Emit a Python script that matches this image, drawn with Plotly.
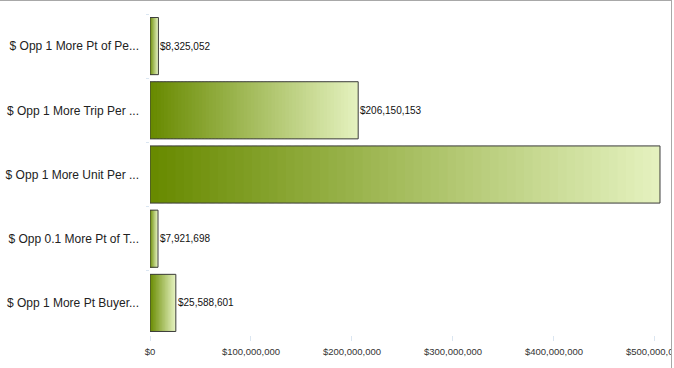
import plotly.graph_objects as go

categories = [
    "$ Opp 1 More Pt of Pe...",
    "$ Opp 1 More Trip Per ...",
    "$ Opp 1 More Unit Per ...",
    "$ Opp 0.1 More Pt of T...",
    "$ Opp 1 More Pt Buyer...",
]
values = [8325052, 206150153, 505000000, 7921698, 25588601]
tick_vals = [0, 100000000, 200000000, 300000000, 400000000, 500000000]

# gradient colours (left -> right along each bar)
c0 = (104, 138, 0)
c1 = (228, 241, 190)
N = 60

W, H = 674, 368
L, R, T, B = 150, 13, 14, 33
pw, ph = W - L - R, H - T - B
xmax = 506000000

seg_y, seg_x, seg_base, seg_col = [], [], [], []
for k in range(N):
    f = k / (N - 1)
    col = "rgb(%d,%d,%d)" % tuple(round(a + (b - a) * f) for a, b in zip(c0, c1))
    for cat, v in zip(categories, values):
        start = k / N
        width = min(1.6 / N, 1 - start)
        seg_y.append(cat)
        seg_x.append(v * width)
        seg_base.append(v * start)
        seg_col.append(col)

fig = go.Figure()
fig.add_trace(go.Bar(
    y=seg_y, x=seg_x, base=seg_base, orientation="h",
    marker=dict(color=seg_col, line=dict(width=0)),
    hoverinfo="skip", showlegend=False,
))
fig.add_trace(go.Bar(
    y=categories, x=values, orientation="h",
    marker=dict(color="rgba(0,0,0,0)", line=dict(color="#3c3c3c", width=1)),
    showlegend=False,
))

# value labels just right of each bar end (the one past the plot edge is not shown)
annotations = [
    dict(x=v, y=cat, xref="x", yref="y", text="$" + f"{v:,}", showarrow=False,
         xanchor="left", yanchor="middle", xshift=0,
         font=dict(family="Arial, Liberation Sans", size=10, color="#111111"))
    for cat, v in zip(categories, values) if v < 0.9 * xmax
]

px_x = lambda p: (p - L) / pw          # pixel -> paper x
px_y = lambda p: (H - B - p) / ph      # pixel -> paper y

fig.update_layout(
    width=W, height=H,
    margin=dict(l=L, r=R, t=T, b=B, autoexpand=False),
    barmode="overlay", bargap=0.11,
    paper_bgcolor="white", plot_bgcolor="white",
    font=dict(family="Arial, Liberation Sans", color="#222222"),
    annotations=annotations,
    xaxis=dict(
        range=[0, xmax], tickvals=tick_vals, tickformat="$,.0f",
        showgrid=False, zeroline=False, showline=False, automargin=False,
        ticks="outside", ticklen=5, tickcolor="#dbe6f1",
        tickfont=dict(size=9.5, color="#333333"),
        ticklabelstandoff=3, ticklabeloverflow="allow",
    ),
    yaxis=dict(
        categoryorder="array", categoryarray=categories, autorange="reversed",
        showgrid=False, zeroline=False, showline=False, automargin=False,
        ticks="outside", ticklen=3, tickcolor="#dbe6f1", tickson="boundaries",
        tickfont=dict(size=12, color="#222222"),
        ticklabelstandoff=10,
    ),
    shapes=[
        dict(type="rect", xref="paper", yref="paper",
             x0=px_x(672), x1=px_x(700), y0=px_y(400), y1=px_y(-20),
             fillcolor="white", line=dict(width=0), layer="above"),
        dict(type="line", xref="paper", yref="paper",
             x0=px_x(671.5), x1=px_x(671.5), y0=px_y(400), y1=px_y(0),
             line=dict(color="#a8a8a8", width=1), layer="above"),
        dict(type="line", xref="paper", yref="paper",
             x0=px_x(-5), x1=px_x(672), y0=px_y(0.5), y1=px_y(0.5),
             line=dict(color="#a8a8a8", width=1), layer="above"),
    ],
)

fig.write_html("out.html", config={"displayModeBar": False},
               post_script="document.body.style.margin='0px';")
